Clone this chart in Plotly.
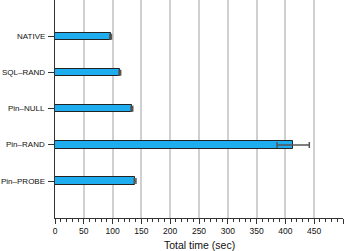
import plotly.graph_objects as go

categories = ["NATIVE", "SQL–RAND", "Pin–NULL", "Pin–RAND", "Pin–PROBE"]
times = [96.5, 112.5, 133.5, 413.5, 139.0]
errors = [1.5, 1.5, 1.5, 28.0, 1.5]
x_ticks = [0, 50, 100, 150, 200, 250, 300, 350, 400, 450, 500]

ypos = list(range(len(categories)))

fig = go.Figure()
fig.add_trace(go.Bar(
    x=times, y=ypos, orientation="h", width=0.2,
    marker=dict(color="#1EAEF0", line=dict(color="#222222", width=1)),
    error_x=dict(type="data", array=errors, visible=True, color="#555555", thickness=1.5, width=3),
))

fig.update_layout(
    width=350, height=251,
    margin=dict(l=55, r=7, t=0, b=33, autoexpand=False),
    plot_bgcolor="white", paper_bgcolor="white",
    showlegend=False,
    font=dict(family="Liberation Sans, Arial, sans-serif", color="#111111", size=8.3),
    bargap=0,
)
fig.add_annotation(
    text="Total time (sec)", xref="paper", yref="paper", x=0.5, y=0,
    yshift=-27, xanchor="center", yanchor="middle", showarrow=False,
    font=dict(size=10.5, color="#111111"),
)
for yp, lab in zip(ypos, categories):
    fig.add_annotation(
        text=lab, xref="paper", yref="y", x=0, y=yp, xshift=-9.5,
        xanchor="right", yanchor="middle", showarrow=False, borderpad=0,
        font=dict(size=8, color="#111111"),
    )
fig.update_xaxes(
    range=[0, 500], tickvals=x_ticks, ticktext=[str(v) for v in x_ticks],
    showgrid=True, gridcolor="#d0d0d0", gridwidth=1.5,
    showline=True, linecolor="#333333", linewidth=1,
    ticks="outside", ticklen=5, tickwidth=1, tickcolor="#333333",
    minor=dict(dtick=10, ticks="outside", ticklen=3, tickcolor="#333333", showgrid=False),
    zeroline=False, automargin=False,
    tickfont=dict(size=8.5),
)
fig.update_yaxes(
    range=[5.025, -1.017], tickvals=ypos, showticklabels=False,
    showgrid=False, showline=True, linecolor="#333333", linewidth=1,
    ticks="outside", ticklen=6, tickcolor="#333333",
    zeroline=False, automargin=False,
)

fig.write_html(
    "out.html",
    config={"displayModeBar": False},
    post_script="document.body.style.margin='0';document.body.style.overflow='hidden';",
)
